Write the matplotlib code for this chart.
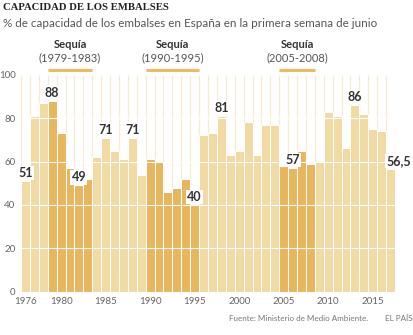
import matplotlib
matplotlib.use("Agg")
import matplotlib.pyplot as plt
from matplotlib.transforms import blended_transform_factory

years = list(range(1976, 2018))
capacity = [51, 81, 87, 88, 73, 57, 49, 52, 62, 71,
            65, 61, 71, 54, 61, 60, 46, 48, 52, 40,
            72, 73, 81, 63, 65, 78, 63, 77, 77, 58,
            57, 65, 59, 60, 83, 81, 66, 86, 82, 75,
            74, 56.5]

droughts = [(1979, 1983), (1990, 1995), (2005, 2008)]
labelled_years = [1976, 1979, 1982, 1985, 1988, 1995, 1998, 2006, 2013, 2017]
xtick_years = [1976, 1980, 1985, 1990, 1995, 2000, 2005, 2010, 2015]
ytick_values = [0, 20, 40, 60, 80, 100]

LIGHT = "#F1DAA3"
DARK = "#E8B65C"
RULE = "#EDBB62"
GRID_BG = "#F7EBD2"
TEXT_DARK = "#333333"
TEXT_GREY = "#666666"

W, H = 414, 335
fig = plt.figure(figsize=(W / 100, H / 100), dpi=100)
ax = fig.add_axes([21 / W, 1 - 291.7 / H, 374 / W, 217 / H])


def in_drought(y):
    return any(a <= y <= b for a, b in droughts)


colors = [DARK if in_drought(y) else LIGHT for y in years]

# pale column guides behind the bars
for k in range(len(years) + 1):
    ax.plot([years[0] - 0.5 + k] * 2, [0, 100], color=GRID_BG, lw=0.9,
            zorder=0, solid_capstyle="butt")

ax.bar(years, capacity, width=1.0, color=colors, edgecolor="white",
       linewidth=0.75, zorder=2)

for v in [20, 40, 60, 80]:
    ax.axhline(v, color="white", lw=0.8, zorder=3)

ax.set_xlim(years[0] - 0.5, years[-1] + 0.5)
ax.set_ylim(0, 100)
for s in ax.spines.values():
    s.set_visible(False)
ax.set_xticks(xtick_years)
ax.set_xticklabels([str(y) for y in xtick_years])
ax.set_yticks(ytick_values)
ax.set_yticklabels([str(v) for v in ytick_values])
ax.tick_params(length=0, labelsize=7, labelcolor=TEXT_GREY, pad=4)
for lab in ax.get_xticklabels() + ax.get_yticklabels():
    lab.set_fontfamily("Lato")

# value labels
for y in labelled_years:
    v = capacity[years.index(y)]
    txt = (f"{v:g}").replace(".", ",")
    last = y == years[-1]
    ax.annotate(txt, (y - 0.45 if last else y, v), xytext=(0, 1.5),
                textcoords="offset points", ha="left" if last else "center",
                va="bottom", fontsize=9, fontweight="bold", family="Lato",
                color=TEXT_DARK, zorder=5, annotation_clip=False,
                bbox=dict(boxstyle="square,pad=0.1", fc="white", ec="none"))

# drought periods above the chart
tr = blended_transform_factory(ax.transData, fig.transFigure)
for a, b in droughts:
    xc = (a + b) / 2
    fig.text(xc, 1 - 44 / H, "Sequía", transform=tr, ha="center", va="center",
             fontsize=8, fontweight="bold", family="Lato", color=TEXT_DARK)
    fig.text(xc, 1 - 58 / H, f"({a}-{b})", transform=tr, ha="center",
             va="center", fontsize=8, family="Lato", color="#555555")
    ax.plot([a - 0.5, b + 0.5], [1 - 69.5 / H] * 2, transform=tr,
            color=RULE, lw=2.2, solid_capstyle="butt", clip_on=False)

fig.text(3 / W, 1 - 8 / H, "CAPACIDAD DE LOS EMBALSES", ha="left",
         va="center", fontsize=7.7, fontweight="bold",
         family="Liberation Serif", color="#222222")
fig.text(3 / W, 1 - 23.5 / H,
         "% de capacidad de los embalses en España en la primera semana de junio",
         ha="left", va="center", fontsize=8.4, family="Lato", color="#555555")

fig.text(368 / W, 1 - 318.7 / H, "Fuente: Ministerio de Medio Ambiente.",
         ha="right", va="center", fontsize=5.8, family="Lato", color="#777777")
fig.text(412.5 / W, 1 - 318.7 / H, "EL PAÍS", ha="right", va="center",
         fontsize=5.8, family="Lato", color="#777777")

fig.savefig("out.png", dpi=100)
